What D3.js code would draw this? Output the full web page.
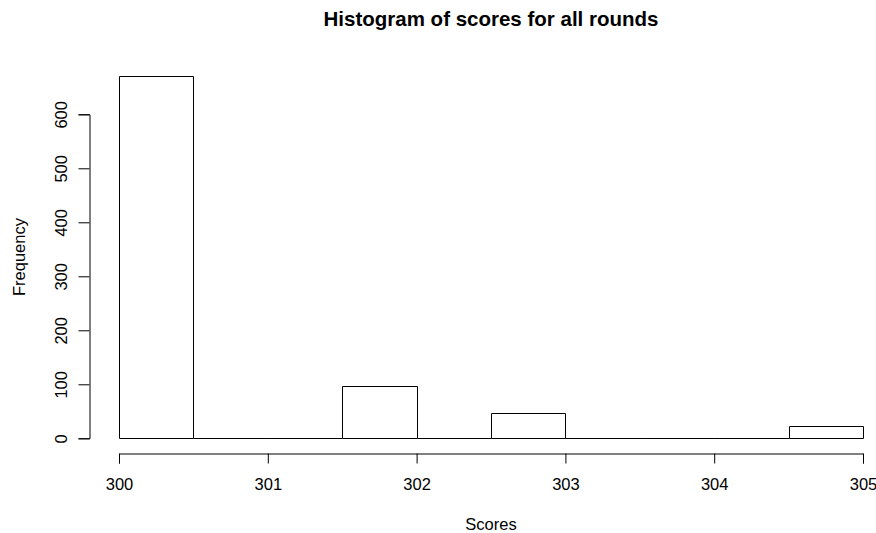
<!DOCTYPE html>
<html><head><meta charset="utf-8">
<script src="https://cdn.jsdelivr.net/npm/d3@7"></script>
<style>body{margin:0;background:#fff}svg{display:block}text{font-family:"Liberation Sans",Arial,sans-serif;fill:#000}</style>
</head><body><svg id="c" width="876" height="533"></svg>
<script>
const binStarts = [300, 300.5, 301, 301.5, 302, 302.5, 303, 303.5, 304, 304.5];
const binWidth = 0.5;
const counts = [671, 0, 0, 97, 0, 47, 0, 0, 0, 23];
const xTicks = [300, 301, 302, 303, 304, 305];
const yTicks = [0, 100, 200, 300, 400, 500, 600];

const svg = d3.select("#c");
const x = d3.scaleLinear().domain([300, 305]).range([119, 863]);
const y = d3.scaleLinear().domain([0, 600]).range([438.3, 114.3]);
const FS = "16.5px";

svg.append("g").selectAll("path").data(binStarts).join("path")
  .attr("d", (d, i) => {
    const x0 = Math.round(x(d)) + 0.5, x1 = Math.round(x(d + binWidth)) + 0.5;
    const y0 = Math.round(y(0)) + 0.5, y1 = Math.round(y(counts[i])) + 0.5;
    return `M${x0},${y0}L${x0},${y1}L${x1},${y1}L${x1},${y0}Z`;
  })
  .attr("fill", "#fff").attr("stroke", "#000").attr("stroke-width", 1);

const xAxis = svg.append("g").attr("transform", "translate(0,453.5)")
  .call(d3.axisBottom(x).tickValues(xTicks).tickSize(10).tickPadding(12).tickFormat(d3.format("d")));
const yAxis = svg.append("g").attr("transform", "translate(89.5,0)")
  .call(d3.axisLeft(y).tickValues(yTicks).tickSize(11).tickPadding(0).tickFormat(d3.format("d")));
[xAxis, yAxis].forEach(g => {
  g.attr("font-size", null);
  g.select(".domain").attr("stroke", "#000");
  g.selectAll(".tick line").attr("stroke", "#000");
  g.selectAll("text").style("font-size", FS).attr("fill", "#222")
   .style("font-family", '"Liberation Sans",Arial,sans-serif');
});
yAxis.selectAll(".tick text")
  .attr("x", 0).attr("dy", null)
  .attr("text-anchor", "middle")
  .attr("transform", "translate(-29,0) rotate(-90)")
  .attr("y", 0).attr("dominant-baseline", "central");
xAxis.selectAll(".tick text").attr("y", 0).attr("dy", null)
  .attr("transform", "translate(0,36.5)");

svg.append("text").attr("x", 491).attr("y", 26).attr("text-anchor", "middle")
  .style("font-size", "20.5px").style("font-weight", "bold").attr("fill", "#000")
  .text("Histogram of scores for all rounds");
svg.append("text").attr("x", 491).attr("y", 530).attr("text-anchor", "middle")
  .style("font-size", FS).attr("fill", "#222").text("Scores");
svg.append("text").attr("transform", "translate(25,257) rotate(-90)").attr("text-anchor", "middle")
  .style("font-size", FS).attr("fill", "#222").text("Frequency");
</script></body></html>
